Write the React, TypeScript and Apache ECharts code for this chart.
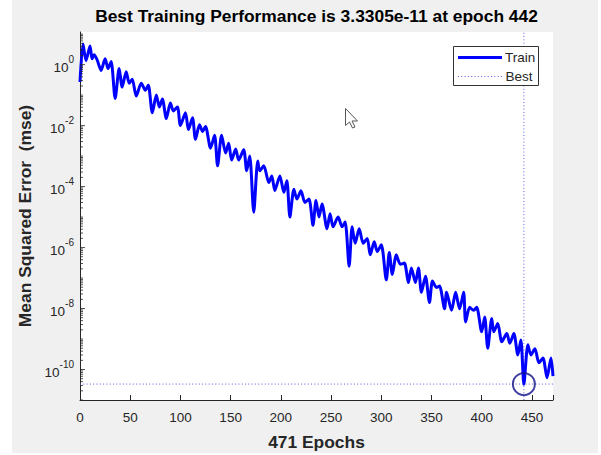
import React, { useEffect, useRef } from "react";
import * as echarts from "echarts";

// Epochs (x) and log10 of the training MSE
const trainEpochs = [
  0, 3, 6, 10, 12, 14, 17, 21, 25, 28,
  31, 35, 39, 42, 46, 49, 52, 56, 61, 65,
  68, 72, 76, 79, 82, 86, 90, 93, 97, 100,
  105, 108, 112, 115, 119, 122, 125, 130, 134, 137,
  141, 145, 148, 151, 155, 158, 163, 166, 169, 173,
  177, 179, 183, 188, 191, 194, 199, 203, 206, 209,
  213, 216, 220, 224, 228, 232, 235, 238, 241, 246,
  249, 252, 257, 261, 264, 268, 271, 274, 278, 282,
  286, 289, 293, 296, 300, 305, 308, 311, 315, 319,
  323, 327, 330, 334, 337, 340, 344, 348, 351, 355,
  358, 363, 365, 370, 374, 378, 382, 384, 388, 392,
  395, 400, 403, 406, 410, 412, 416, 420, 425, 428,
  432, 436, 439, 442, 446, 449, 453, 457, 461, 465,
  469, 471,
];
const trainLog10Mse = [
  -0.57, 0.68, 0.13, 0.61, 0.19, 0.32, 0.16, -0.19, 0.19, -0.13,
  0.1, -1.11, -0.13, -0.74, -0.23, -0.61, -0.48, -1.03, -0.61, -0.84,
  -0.68, -1.58, -1.0, -1.39, -1.13, -1.77, -1.26, -1.52, -1.39, -2.0,
  -1.58, -2.13, -1.74, -2.45, -1.97, -2.19, -2.03, -2.74, -2.32, -3.32,
  -2.32, -2.9, -2.58, -3.13, -2.77, -3.13, -2.79, -3.48, -3.0, -4.84,
  -3.16, -3.48, -3.32, -3.87, -3.65, -4.13, -3.65, -4.19, -3.81, -5.0,
  -4.09, -4.41, -4.14, -4.52, -4.41, -5.27, -4.46, -5.0, -4.57, -5.38,
  -4.89, -5.32, -5.0, -5.32, -5.16, -6.61, -5.32, -5.86, -5.38, -5.86,
  -5.7, -6.24, -5.81, -6.13, -5.91, -7.06, -6.16, -6.88, -6.24, -6.55,
  -6.51, -7.15, -6.67, -7.15, -6.67, -7.47, -6.94, -7.8, -7.1, -7.31,
  -7.26, -8.01, -7.47, -8.06, -7.47, -8.01, -7.47, -8.44, -7.96, -8.06,
  -7.96, -8.76, -8.28, -9.3, -8.33, -8.76, -8.49, -9.09, -8.82, -9.14,
  -8.82, -9.52, -9.03, -10.48, -9.19, -9.52, -9.32, -9.78, -9.62, -10.27,
  -9.62, -10.22,
];

const bestEpoch = 442;
const bestMse = 3.3305e-11;
const totalEpochs = 471;
const xTickValues = [0, 50, 100, 150, 200, 250, 300, 350, 400, 450];
const yLabelExponents = [-10, -8, -6, -4, -2, 0];
const yMinExp = -11;
const yMaxExp = 1.07;
const legendNames = ["Train", "Best"];

const FONT = "'Liberation Sans', Arial, Helvetica, sans-serif";
const TXT = "#262626";
const TRAIN_COLOR = "#0000ff";
const BEST_COLOR = "#5a5ae0";

export default function App() {
  const ref = useRef<HTMLDivElement>(null);

  useEffect(() => {
    if (!ref.current) return;
    const chart = echarts.init(ref.current, undefined, { renderer: "svg" });
    const bestLog = Math.log10(bestMse);
    const trainData = trainEpochs.map((e, i) => [e, trainLog10Mse[i]]);

    const majorTicks: number[][] = yLabelExponents.map((n) => [0, n]);
    const minorTicks: number[][] = [];
    for (let n = yMinExp; n <= 1; n++) {
      for (let k = 1; k <= 9; k++) {
        const v = n + Math.log10(k);
        if (v < yMinExp || v > yMaxExp) continue;
        if (k === 1 && yLabelExponents.includes(n)) continue;
        minorTicks.push([0, v]);
      }
    }

    chart.setOption({
      animation: false,
      backgroundColor: "#f0f0f0",
      textStyle: { fontFamily: FONT },
      title: {
        text: `Best Training Performance is ${bestMse.toExponential(4)} at epoch ${bestEpoch}`,
        left: 316.5,
        textAlign: "center",
        top: 7,
        padding: 0,
        textStyle: { fontSize: 17.4, fontWeight: "bold", color: "#000", fontFamily: FONT },
      },
      grid: {
        left: 80,
        right: 48,
        top: 32,
        bottom: 49,
        show: true,
        backgroundColor: "#ffffff",
        borderWidth: 0,
      },
      xAxis: {
        type: "value",
        min: 0,
        max: totalEpochs,
        interval: 50,
        name: `${totalEpochs} Epochs`,
        nameLocation: "middle",
        nameGap: 33,
        nameTextStyle: { fontSize: 17.4, fontWeight: "bold", color: TXT, fontFamily: FONT },
        axisLine: { show: true, onZero: false, lineStyle: { color: TXT, width: 1 } },
        axisTick: { show: true, inside: true, length: 5, lineStyle: { color: TXT } },
        axisLabel: {
          margin: 10,
          fontSize: 13.5,
          color: TXT,
          fontFamily: FONT,
          formatter: (v: number) => (xTickValues.includes(v) ? String(v) : ""),
        },
        splitLine: { show: false },
      },
      yAxis: {
        type: "value",
        min: yMinExp,
        max: yMaxExp,
        interval: 1,
        name: "Mean Squared Error  (mse)",
        nameLocation: "middle",
        nameGap: 45,
        nameTextStyle: { fontSize: 17.4, fontWeight: "bold", color: TXT, fontFamily: FONT },
        axisLine: { show: true, onZero: false, lineStyle: { color: TXT, width: 1 } },
        axisTick: { show: false },
        axisLabel: {
          margin: 6,
          color: TXT,
          fontFamily: FONT,
          formatter: (v: number) =>
            yLabelExponents.includes(v) ? `{b|10}{s|${v}}` : "",
          rich: {
            b: { fontSize: 13.5, color: TXT, fontFamily: FONT, lineHeight: 20, verticalAlign: "bottom" },
            s: { fontSize: 10, color: TXT, fontFamily: FONT, lineHeight: 11, verticalAlign: "top" },
          },
        },
        splitLine: { show: false },
      },
      series: [
        {
          name: "Train",
          type: "line",
          data: trainData,
          symbol: "none",
          smooth: 0.25,
          lineStyle: { color: TRAIN_COLOR, width: 3 },
          itemStyle: { color: TRAIN_COLOR },
          z: 3,
        },
        {
          name: "Best",
          type: "line",
          data: [
            [0, bestLog],
            [totalEpochs, bestLog],
          ],
          symbol: "none",
          lineStyle: { color: BEST_COLOR, width: 1, type: [1, 2.3] },
          z: 2,
        },
        {
          name: "Best",
          type: "line",
          data: [
            [bestEpoch, yMinExp],
            [bestEpoch, yMaxExp],
          ],
          symbol: "none",
          lineStyle: { color: BEST_COLOR, width: 1, type: [1, 2.3] },
          z: 2,
        },
        {
          name: "bestPoint",
          type: "scatter",
          data: [[bestEpoch, bestLog]],
          symbol: "circle",
          symbolSize: 22,
          itemStyle: { color: "rgba(0,0,0,0)", borderColor: "#12128a", borderWidth: 2 },
          silent: true,
          z: 4,
        },
        {
          name: "yMajorTicks",
          type: "scatter",
          data: majorTicks,
          symbol: "rect",
          symbolSize: [5, 1],
          symbolOffset: [2.5, 0],
          itemStyle: { color: TXT },
          silent: true,
          clip: false,
          z: 5,
        },
        {
          name: "yMinorTicks",
          type: "scatter",
          data: minorTicks,
          symbol: "rect",
          symbolSize: [3, 1],
          symbolOffset: [1.5, 0],
          itemStyle: { color: TXT },
          silent: true,
          clip: false,
          z: 5,
        },
      ],
      graphic: [
        { type: "rect", shape: { x: 0, y: 0, width: 12, height: 455 }, style: { fill: "#ffffff" }, silent: true, z: 20 },
        { type: "rect", shape: { x: 0, y: 453, width: 601, height: 2 }, style: { fill: "#ffffff" }, silent: true, z: 20 },
        { type: "rect", shape: { x: 598, y: 0, width: 3, height: 455 }, style: { fill: "#ffffff" }, silent: true, z: 20 },
        // legend box
        {
          type: "group",
          z: 20,
          children: [
            {
              type: "rect",
              shape: { x: 453.5, y: 46.5, width: 85, height: 39 },
              style: { fill: "#ffffff", stroke: "#333333", lineWidth: 1 },
              silent: true,
              z: 20,
            },
            {
              type: "line",
              shape: { x1: 458, y1: 57.5, x2: 502, y2: 57.5 },
              style: { stroke: TRAIN_COLOR, lineWidth: 3 },
              silent: true,
              z: 21,
            },
            {
              type: "text",
              x: 505,
              y: 57.5,
              style: { text: legendNames[0], fontSize: 13.5, fill: TXT, fontFamily: FONT, textVerticalAlign: "middle", verticalAlign: "middle" },
              silent: true,
              z: 21,
            },
            {
              type: "line",
              shape: { x1: 458, y1: 76.5, x2: 502, y2: 76.5 },
              style: { stroke: BEST_COLOR, lineWidth: 1, lineDash: [1, 2.3] },
              silent: true,
              z: 21,
            },
            {
              type: "text",
              x: 505.5,
              y: 76.5,
              style: { text: legendNames[1], fontSize: 13.5, fill: TXT, fontFamily: FONT, textVerticalAlign: "middle", verticalAlign: "middle" },
              silent: true,
              z: 21,
            },
          ],
        },
        {
          type: "polygon",
          x: 345.5,
          y: 108.5,
          shape: {
            points: [
              [0, 0], [0, 17], [4, 13.5], [7, 19.5], [9.5, 18.5], [6.5, 12.5], [12, 12.5],
            ],
          },
          style: { fill: "#ffffff", stroke: "#555555", lineWidth: 1 },
          silent: true,
          z: 22,
        },
      ],
    });
    return () => chart.dispose();
  }, []);

  return (
    <div
      ref={ref}
      style={{ position: "absolute", left: 0, top: 0, width: 601, height: 455 }}
    />
  );
}
